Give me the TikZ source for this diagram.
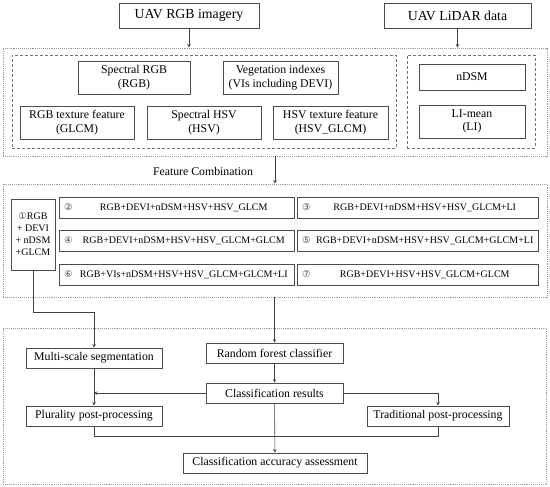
\documentclass[tikz,border=0pt]{standalone}
\usepackage{fontspec}
\setmainfont{Liberation Serif}
\newfontfamily\circnum{DejaVu Sans}
\newcommand{\cnum}[1]{{\circnum\fontsize{9.5}{10}\selectfont\color{black!70}#1}}
\newcommand{\combotext}[2]{\hbox to \hsize{\hspace*{3pt}\cnum{#1}\hfill\hspace*{3pt}#2\hfill}}

\tikzset{
    box/.style={draw=black!70, line width=0.7pt, inner sep=2pt, align=center,
        font=\fontsize{11.8}{13.5}\selectfont},
    wh/.style 2 args={minimum width=#1pt, minimum height=#2pt},
    srcbox/.style={box, minimum height=25pt, font=\fontsize{13.8}{16}\selectfont},
    featbox/.style={box, wh={114}{33}},
    stepbox/.style={box, wh={136}{20}},
    outer/.style={draw=black!40, densely dotted, line width=0.9pt},
    group/.style={draw=black!55, dash pattern=on 3pt off 2pt, line width=0.7pt},
    combo/.style={box, minimum height=21pt, inner xsep=2pt, align=left,
        font=\fontsize{10}{12}\selectfont},
    comboL/.style={combo, text width=231pt},
    comboR/.style={combo, text width=237pt},
    link/.style={draw=black!75, line width=0.6pt},
}

\begin{document}
\begin{tikzpicture}[x=1pt, y=-1pt, >=stealth]
    \useasboundingbox (0,0) rectangle (550,487);

    % Data sources
    \node[srcbox, minimum width=140pt] (rgbimg) at (189,15.5) {UAV RGB imagery};
    \node[srcbox, minimum width=147pt] (lidar) at (457.5,15.5) {UAV LiDAR data};

    % Feature extraction
    \node[outer, wh={544}{108}] (featall) at (275,102) {};
    \node[group, wh={384}{93}] (rgbgrp) at (204,101.5) {};
    \node[group, wh={128}{93}] (lidgrp) at (471,101.5) {};
    \node[featbox, minimum width=112pt] (sprgb) at (134,77.5) {Spectral RGB\\(RGB)};
    \node[featbox, minimum width=115pt] (vis) at (280.5,77.5) {Vegetation indexes\\(VIs including DEVI)};
    \node[featbox] (rgbtex) at (77,122.5) {RGB texture feature\\(GLCM)};
    \node[featbox] (sphsv) at (204,122.5) {Spectral HSV\\(HSV)};
    \node[featbox, minimum width=115pt] (hsvtex) at (330.5,122.5) {HSV texture feature\\(HSV\_GLCM)};
    \node[box, wh={106}{26}] (ndsm) at (472,77) {nDSM};
    \node[box, wh={106}{33}] (limean) at (472,121.5) {LI-mean\\(LI)};

    \draw[link, ->] (rgbimg) -- (rgbimg |- featall.north);
    \draw[link, ->] (lidar) -- (lidar |- featall.north);

    % Feature combinations
    \node[font=\fontsize{11.8}{13.5}\selectfont] (fclabel) at (203,171) {Feature Combination};
    \node[outer, wh={544}{113}] (combo) at (275,240.5) {};
    \node[box, wh={44}{71}, inner sep=1pt, font=\fontsize{10}{12}\selectfont] (c1) at (33,234.5)
        {\cnum{①}RGB\\+ DEVI\\+ nDSM\\+GLCM};
    \node[comboL] (c2) at (176.5,207.5) {\combotext{②}{RGB+DEVI+nDSM+HSV+HSV\_GLCM}};
    \node[comboR] (c3) at (417.5,207.5) {\combotext{③}{RGB+DEVI+nDSM+HSV+HSV\_GLCM+LI}};
    \node[comboL] (c4) at (176.5,241) {\combotext{④}{RGB+DEVI+nDSM+HSV+HSV\_GLCM+GLCM}};
    \node[comboR] (c5) at (417.5,241) {\combotext{⑤}{RGB+DEVI+nDSM+HSV+HSV\_GLCM+GLCM+LI}};
    \node[comboL] (c6) at (176.5,275) {\combotext{⑥}{RGB+VIs+nDSM+HSV+HSV\_GLCM+GLCM+LI}};
    \node[comboR] (c7) at (417.5,275) {\combotext{⑦}{RGB+DEVI+HSV+HSV\_GLCM+GLCM}};

    \draw[link, ->] (featall) -- (combo);

    % Classification
    \node[outer, wh={543}{156}] (clsall) at (274.5,406) {};
    \node[stepbox] (mss) at (94,358) {Multi-scale segmentation};
    \node[stepbox, minimum width=137pt] (rf) at (274.5,353) {Random forest classifier};
    \node[stepbox, minimum width=137pt] (cres) at (274.5,393) {Classification results};
    \node[stepbox] (plur) at (94,416) {Plurality post-processing};
    \node[stepbox, minimum width=142pt] (trad) at (438,416) {Traditional post-processing};
    \node[stepbox, minimum width=184pt] (acc) at (275,463) {Classification accuracy assessment};

    \draw[link, ->] (combo.south -| rf) -- (rf);
    \draw[link, ->] (c1.south) -- ++(0,42) -| (mss);
    \draw[link, ->] (rf) -- (cres);
    \draw[link, ->] (mss) -- (plur);
    \draw[link, ->] (cres) -- (cres -| mss);
    \draw[link, ->] (cres) -| (trad);
    \draw[link] (plur) -- ++(0,20) -| (trad);
    \draw[link, ->] (cres) -- (acc);
\end{tikzpicture}
\end{document}
